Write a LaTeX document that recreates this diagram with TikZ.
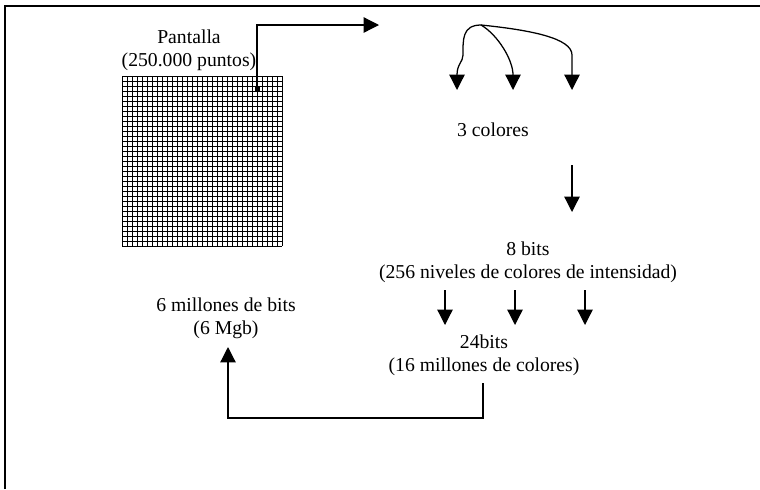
\documentclass[tikz,border=0pt]{standalone}
\usepackage{fontspec}
\setmainfont{Liberation Serif}
\usetikzlibrary{arrows.meta}

\begin{document}
\begin{tikzpicture}[x=0.025cm,y=-0.025cm,line width=0.9pt,
    >={Triangle[width=11pt,length=11pt]},
    lbl/.style={align=center,font=\fontsize{14}{16.5}\selectfont,inner sep=0pt}]
            \useasboundingbox (0,0) rectangle (760,489);
            \draw (5,489) -- (5,6) -- (760,6);
            \foreach \i in {0,...,32} \draw[line width=0.7pt] (122+5*\i,76) -- (122+5*\i,246);
            \foreach \j in {0,...,34} \draw[line width=0.7pt] (122,76+5*\j) -- (282,76+5*\j);
            \coordinate (dot) at (257,89);
            \fill (dot) ++(-2.5,-2.5) rectangle ++(5,5);
            \coordinate (screen-out) at (379,25);
            \draw[->] (dot) |- (screen-out);
            \node[lbl] (pantalla) at (189,50) {Pantalla\\(250.000 puntos)};
            \coordinate (split) at (481,25);
            \coordinate (red) at (457,90);
            \coordinate (green) at (513,90);
            \coordinate (blue) at (572,90);
            \draw[->] (split) .. controls (462,25) and (463,40) .. (463,55) .. controls (463,62) and (457,64) .. (red);
            \draw[->] (split) .. controls (498,35) and (513,60) .. (green);
            \draw[->] (split) .. controls (530,30) and (572,38) .. (572,55) -- (blue);
            \node[lbl] (colores) at (493,130) {3 colores};
            \coordinate (c-top) at (572,165);
            \coordinate (c-bot) at (572,212);
            \draw[->] (c-top) -- (c-bot);
            \node[lbl] (ochobits) at (528,262) {8 bits\\(256 niveles de colores de intensidad)};
            \foreach \x/\n in {445/a,515/b,585/c} {
                \coordinate (t\n) at (\x,290);
                \coordinate (b\n) at (\x,325);
                \draw[->] (t\n) -- (b\n);
            }
            \node[lbl] (veinticuatro) at (484,355) {24bits\\(16 millones de colores)};
            \node[lbl] (millones) at (226,318) {6 millones de bits\\(6 Mgb)};
            \coordinate (back-start) at (483,383);
            \coordinate (back-end) at (228,347);
            \draw[->] (back-start) -- (483,418) -| (back-end);
        \end{tikzpicture}
\end{document}
